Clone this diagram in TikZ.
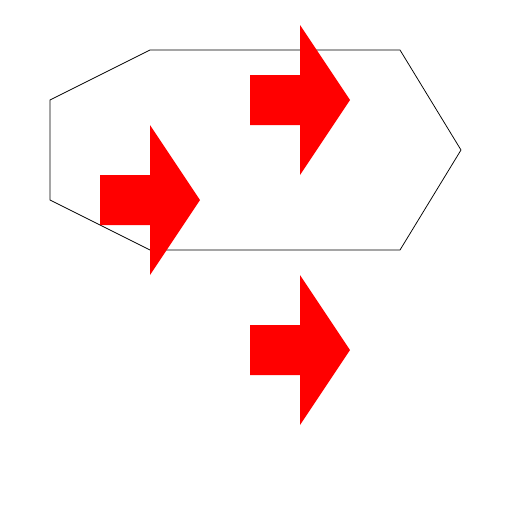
\documentclass[tikz,border=0pt]{standalone}
\begin{document}
\begin{tikzpicture}[x=1pt,y=-1pt,
  outline/.style={draw=black,line width=0.75pt,line join=miter},
  redarrow/.style={fill=red,draw=none}]
\useasboundingbox (0,0) rectangle (512,512);
\draw[outline] (150,50) -- (400,50) -- (461,150) -- (400,250) -- (150,250) -- (50,200) -- (50,100) -- cycle;
\foreach \x/\y in {250/100, 100/200, 250/350}{
  \fill[redarrow] (\x,\y-25) -- (\x+50,\y-25) -- (\x+50,\y-75) -- (\x+100,\y) -- (\x+50,\y+75) -- (\x+50,\y+25) -- (\x,\y+25) -- cycle;
}
\end{tikzpicture}
\end{document}
